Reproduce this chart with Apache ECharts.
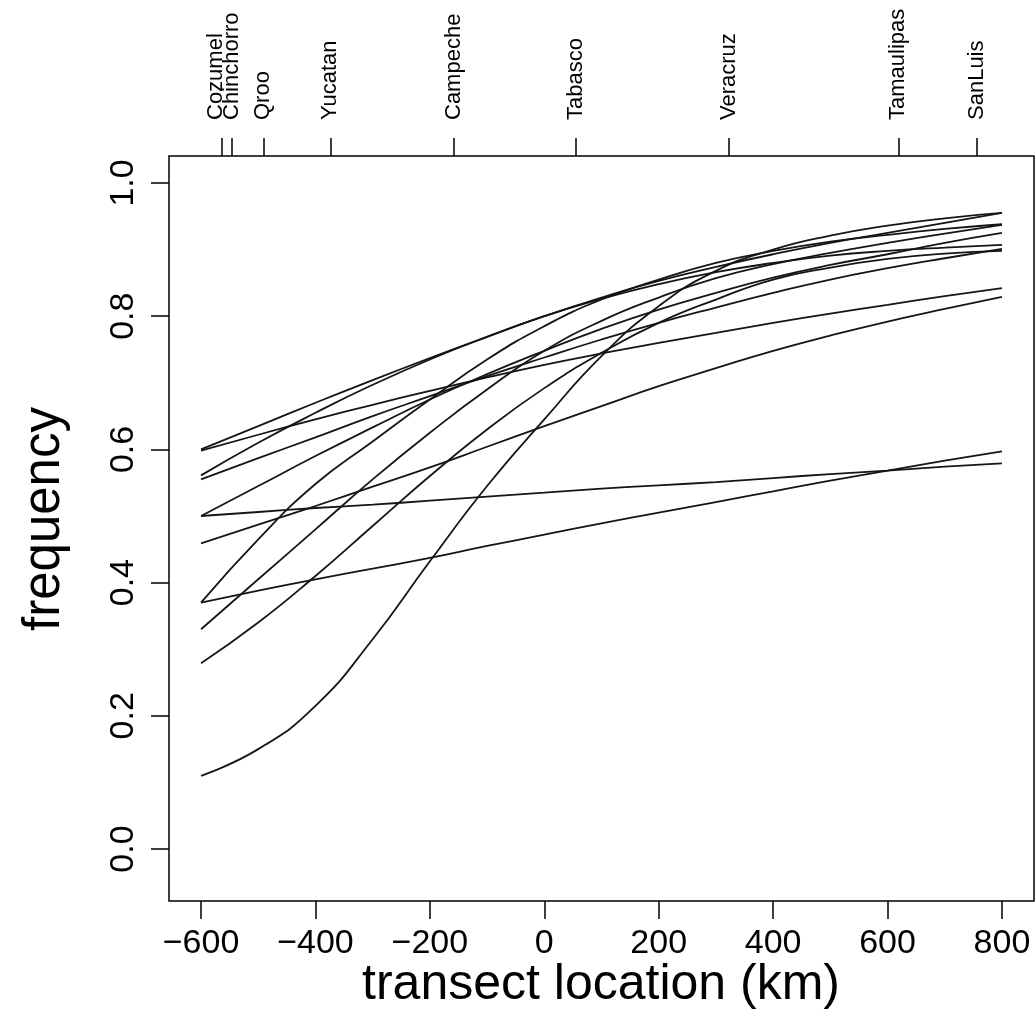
<!DOCTYPE html>
<html>
<head>
<meta charset="utf-8">
<title>Cline frequencies along the transect</title>
<script src="https://cdn.jsdelivr.net/npm/echarts@6/dist/echarts.min.js"></script>
<style>
  html, body { margin: 0; padding: 0; background: #fff; }
  #chart { width: 1036px; height: 1029px; }
</style>
</head>
<body>
<div id="chart"></div>
<script>
// Axis ticks
const kmTicks = [-600, -400, -200, 0, 200, 400, 600, 800];
const freqTicks = [0, 0.2, 0.4, 0.6, 0.8, 1.0];

// Sampling sites along the transect (top axis)
const siteNames = ['Cozumel', 'Chinchorro', 'Qroo', 'Yucatan', 'Campeche', 'Tabasco', 'Veracruz', 'Tamaulipas', 'SanLuis'];
const siteKm = [-563, -546, -491, -374, -158, 55, 323, 619, 756];

// Transect positions (km) at which each cline is sampled
const transectKm = [-600, -500, -400, -300, -200, -100, 0, 100, 200, 300, 400, 500, 600, 700, 800];

// Fitted cline frequencies, one array per locus
const clineA = [0.600, 0.635, 0.670, 0.704, 0.737, 0.769, 0.800, 0.826, 0.848, 0.866, 0.880, 0.891, 0.898, 0.903, 0.907];
const clineB = [0.598, 0.622, 0.645, 0.667, 0.688, 0.708, 0.727, 0.744, 0.760, 0.775, 0.790, 0.804, 0.817, 0.830, 0.842];
const clineC = [0.561, 0.610, 0.655, 0.697, 0.735, 0.769, 0.800, 0.828, 0.853, 0.874, 0.893, 0.910, 0.925, 0.940, 0.955];
const clineD = [0.555, 0.587, 0.618, 0.650, 0.680, 0.710, 0.738, 0.765, 0.790, 0.813, 0.835, 0.855, 0.872, 0.887, 0.901];
const clineE = [0.500, 0.506, 0.512, 0.517, 0.523, 0.529, 0.535, 0.541, 0.546, 0.551, 0.557, 0.563, 0.568, 0.574, 0.579];
const clineF = [0.500, 0.545, 0.590, 0.633, 0.675, 0.713, 0.748, 0.781, 0.810, 0.835, 0.858, 0.877, 0.893, 0.910, 0.925];
const clineG = [0.459, 0.487, 0.515, 0.544, 0.573, 0.604, 0.635, 0.665, 0.695, 0.722, 0.748, 0.771, 0.792, 0.811, 0.829];
const clineH = [0.370, 0.388, 0.405, 0.421, 0.437, 0.455, 0.472, 0.489, 0.505, 0.521, 0.537, 0.553, 0.568, 0.583, 0.597];
const clineI = [0.370, 0.465, 0.548, 0.612, 0.675, 0.735, 0.785, 0.825, 0.855, 0.880, 0.898, 0.912, 0.922, 0.931, 0.938];
const clineJ = [0.330, 0.405, 0.480, 0.555, 0.625, 0.690, 0.748, 0.793, 0.828, 0.857, 0.878, 0.895, 0.910, 0.924, 0.937];
const clineK = [0.279, 0.340, 0.410, 0.485, 0.560, 0.630, 0.692, 0.745, 0.790, 0.825, 0.855, 0.873, 0.886, 0.894, 0.898];
const clineL = [0.110, 0.150, 0.215, 0.315, 0.432, 0.545, 0.645, 0.740, 0.815, 0.868, 0.900, 0.921, 0.936, 0.947, 0.955];

const clines = [clineA, clineB, clineC, clineD, clineE, clineF, clineG, clineH, clineI, clineJ, clineK, clineL];

const FONT = '"Liberation Sans", Arial, Helvetica, sans-serif';
const INK = '#151515';

const fmtKm = v => (v < 0 ? '\u2212' + Math.abs(v) : String(v));

// Two neighbouring sites are too close for one axis to keep both ticks,
// so the second of them goes on its own (overlaid) top axis.
const siteKmMain = siteKm.filter((_, i) => i !== 1);
const siteKmExtra = [siteKm[1]];

// The first site name is nudged left so the two close names sit side by side
const fmtSite = v => {
  const i = siteKm.indexOf(v);
  return i === 0 ? '{shift|' + siteNames[i] + '}' : '{n|' + siteNames[i] + '}';
};

const chart = echarts.init(document.getElementById('chart'), null, { renderer: 'canvas' });

const tickStyle = { color: '#000', width: 1.5 };

const siteAxis = values => ({
  type: 'value', position: 'top', offset: 0, min: -656, max: 856,
  axisLine: { show: false, onZero: false },
  splitLine: { show: false },
  axisTick: { show: true, length: 18, customValues: values, lineStyle: tickStyle },
  axisLabel: {
    customValues: values, rotate: -90, margin: 36,
    hideOverlap: false, showMinLabel: true, showMaxLabel: true,
    formatter: fmtSite,
    fontSize: 22, color: '#000', fontFamily: FONT,
    rich: {
      n: { fontSize: 22, fontFamily: FONT, color: '#000' },
      shift: { fontSize: 22, fontFamily: FONT, color: '#000', padding: [0, 0, 12, 0] }
    }
  }
});

chart.setOption({
  animation: false,
  backgroundColor: '#fff',
  grid: {
    left: 169, top: 156, right: 2, bottom: 128,
    show: true, borderColor: '#000', borderWidth: 1.5, backgroundColor: 'transparent'
  },
  xAxis: [
    {
      type: 'value', position: 'bottom', min: -656, max: 856,
      axisLine: { show: false, onZero: false },
      splitLine: { show: false },
      axisTick: { show: true, length: 18, customValues: kmTicks, lineStyle: tickStyle },
      axisLabel: {
        customValues: kmTicks, formatter: fmtKm, margin: 26,
        hideOverlap: false, showMinLabel: true, showMaxLabel: true,
        fontSize: 34, color: '#000', fontFamily: FONT
      }
    },
    siteAxis(siteKmMain),
    siteAxis(siteKmExtra)
  ],
  yAxis: {
    type: 'value', min: -0.078, max: 1.0405,
    axisLine: { show: false, onZero: false },
    splitLine: { show: false },
    axisTick: { show: true, length: 18, customValues: freqTicks, lineStyle: tickStyle },
    axisLabel: {
      customValues: freqTicks, rotate: 90, margin: 28,
      hideOverlap: false, showMinLabel: true, showMaxLabel: true,
      formatter: v => v.toFixed(1),
      fontSize: 34, color: '#000', fontFamily: FONT
    }
  },
  graphic: [
    {
      type: 'text', x: 601, y: 985,
      style: { text: 'transect location (km)', fill: '#000', font: '50px ' + FONT, textAlign: 'center', textVerticalAlign: 'middle' }
    },
    {
      type: 'text', x: 45, y: 519, rotation: Math.PI / 2,
      style: { text: 'frequency', fill: '#000', font: '51px ' + FONT, textAlign: 'center', textVerticalAlign: 'middle' }
    }
  ],
  series: clines.map(vals => ({
    type: 'line',
    xAxisIndex: 0,
    yAxisIndex: 0,
    data: transectKm.map((km, i) => [km, vals[i]]),
    smooth: 0.5,
    showSymbol: false,
    silent: true,
    lineStyle: { color: INK, width: 1.8 }
  }))
});
</script>
</body>
</html>
